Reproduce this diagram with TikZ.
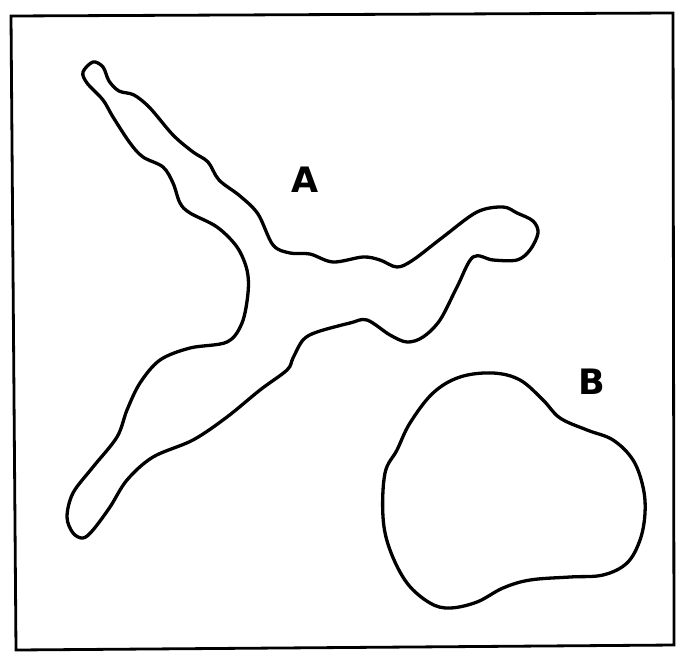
\documentclass[tikz,border=0pt]{standalone}
\usepackage{fontspec}
\newfontfamily\labelfont{DejaVu Sans}
\usetikzlibrary{positioning}

\begin{document}
\begin{tikzpicture}[x=1pt, y=-1pt,
  outline/.style={draw=black, line width=3.3pt, line join=round},
  frame/.style={draw=black, line width=2.8pt},
  cell/.style={font=\labelfont\bfseries\fontsize{35}{35}\selectfont, inner sep=0pt}
]
\useasboundingbox (0,0) rectangle (676,653);

% frame
\draw[frame] (11,16) -- (673,13) -- (674,645) -- (16,650) -- cycle;

% particle A
\draw[outline] plot[smooth cycle, tension=0.55] coordinates {
  (93,62) (103,67) (109,81) (119,91) (134,95) (150,108) (173,135)
  (193,152) (208,162) (219,180) (240,196) (258,214) (273,245)
  (290,253) (310,254) (333,262) (363,257) (380,260) (397,267) (413,260)
  (443,237) (477,212) (503,207) (517,213) (533,221) (538,233) (530,250)
  (517,260) (493,260) (473,257) (457,287) (440,320) (423,337) (407,342)
  (390,335) (367,320) (350,323) (317,332) (303,340) (293,358) (287,370)
  (260,390) (227,417) (193,440) (153,457) (127,480) (110,507) (93,530)
  (83,538) (73,533) (67,517) (73,493) (93,467) (117,437) (127,410)
  (140,383) (160,360) (190,348) (227,342) (242,323) (248,293) (247,270)
  (237,247) (217,227) (190,213) (180,203) (173,183) (163,167) (143,157)
  (130,143) (113,117) (103,100) (87,83) (83,72)
};

% particle B
\draw[outline] plot[smooth cycle, tension=0.6] coordinates {
  (493,373) (520,380) (543,400) (560,418) (587,430) (613,440) (633,460)
  (643,487) (645,513) (640,540) (627,563) (603,575) (570,577) (530,580)
  (503,588) (477,602) (450,608) (430,603) (407,583) (390,550) (383,517)
  (385,473) (397,450) (410,423) (433,393) (460,377)
};

\node[cell] (la) at (305,180) {A};
\node[cell] (lb) at (592,382) {B};
\end{tikzpicture}
\end{document}
